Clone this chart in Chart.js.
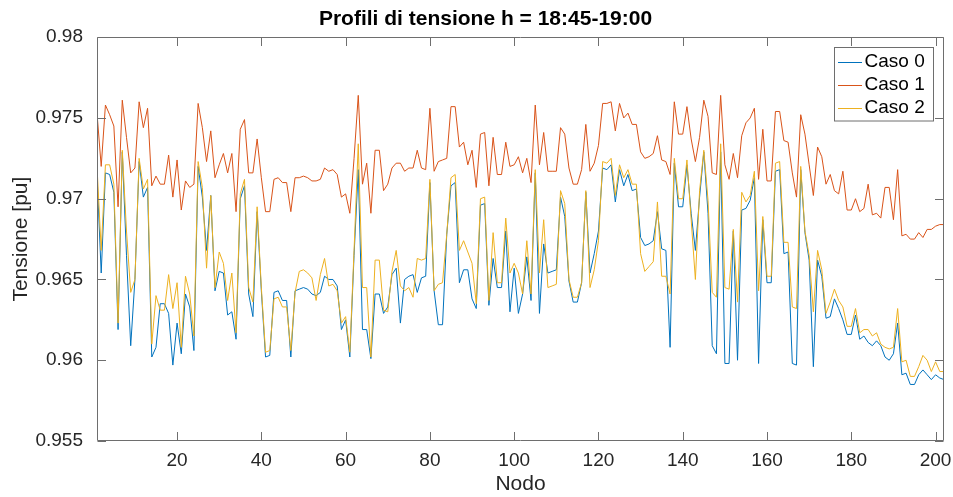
<!DOCTYPE html>
<html>
<head>
<meta charset="utf-8">
<script src="https://cdn.jsdelivr.net/npm/chart.js@4/dist/chart.umd.min.js"></script>
<style>
  html, body { margin: 0; padding: 0; background: #ffffff; }
  #wrap { width: 953px; height: 497px; }
</style>
</head>
<body>
<div id="wrap"><canvas id="c" width="953" height="497"></canvas></div>
<script>
// ---------- DATA ----------
const chartTitle = 'Profili di tensione h = 18:45-19:00';
const xTitle = 'Nodo';
const yTitle = 'Tensione [pu]';
const seriesNames = ['Caso 0', 'Caso 1', 'Caso 2'];
const xTickValues = [20, 40, 60, 80, 100, 120, 140, 160, 180, 200];
const yTickValues = [0.955, 0.96, 0.965, 0.97, 0.975, 0.98];
const yTickLabels = ['0.955', '0.96', '0.965', '0.97', '0.975', '0.98'];

const caso0 = [
  0.9715, 0.9654, 0.9716, 0.9715, 0.9704, 0.9619, 0.9729, 0.9665, 0.9609, 0.9650,
  0.9723, 0.9701, 0.9707, 0.9602, 0.9608, 0.9635, 0.9635, 0.9629, 0.9597, 0.9623,
  0.9604, 0.9641, 0.9633, 0.9606, 0.9720, 0.9701, 0.9668, 0.9702, 0.9643, 0.9655,
  0.9654, 0.9628, 0.9630, 0.9613, 0.9700, 0.9708, 0.9641, 0.9627, 0.9692, 0.9643,
  0.9602, 0.9603, 0.9642, 0.9643, 0.9637, 0.9637, 0.9602, 0.9643, 0.9644, 0.9645,
  0.9644, 0.9641, 0.9640, 0.9642, 0.9652, 0.9650, 0.9650, 0.9646, 0.9619, 0.9625,
  0.9602, 0.9665, 0.9718, 0.9619, 0.9619, 0.9601, 0.9641, 0.9641, 0.9629, 0.9633,
  0.9653, 0.9657, 0.9623, 0.9650, 0.9652, 0.9653, 0.9642, 0.9651, 0.9652, 0.9710,
  0.9643, 0.9622, 0.9622, 0.9678, 0.9708, 0.9710, 0.9648, 0.9656, 0.9656, 0.9638,
  0.9632, 0.9696, 0.9697, 0.9634, 0.9663, 0.9645, 0.9645, 0.9680, 0.9630, 0.9657,
  0.9629, 0.9641, 0.9664, 0.9637, 0.9716, 0.9629, 0.9672, 0.9654, 0.9655, 0.9656,
  0.9701, 0.9689, 0.9649, 0.9636, 0.9636, 0.9648, 0.9704, 0.9654, 0.9666, 0.9680,
  0.9719, 0.9718, 0.9721, 0.9698, 0.9718, 0.9708, 0.9715, 0.9705, 0.9706, 0.9676,
  0.9671, 0.9672, 0.9674, 0.9692, 0.9669, 0.9668, 0.9608, 0.9722, 0.9695, 0.9695,
  0.9721, 0.9691, 0.9668, 0.9701, 0.9729, 0.9691, 0.9609, 0.9604, 0.9729, 0.9598,
  0.9598, 0.9680, 0.9600, 0.9693, 0.9694, 0.9699, 0.9713, 0.9598, 0.9687, 0.9648,
  0.9648, 0.9717, 0.9718, 0.9666, 0.9667, 0.9598, 0.9597, 0.9718, 0.9679, 0.9662,
  0.9596, 0.9662, 0.9652, 0.9626, 0.9627, 0.9638, 0.9632, 0.9625, 0.9616, 0.9616,
  0.9628, 0.9613, 0.9615, 0.9611, 0.9609, 0.9612, 0.9609, 0.9602, 0.9600, 0.9604,
  0.9623, 0.9591, 0.9592, 0.9585, 0.9585, 0.9591, 0.9594, 0.9591, 0.9588, 0.9591,
  0.9589, 0.9588
];

const caso1 = [
  0.9753, 0.9720, 0.9758, 0.9752, 0.9745, 0.9695, 0.9761, 0.9738, 0.9716, 0.9719,
  0.9760, 0.9744, 0.9756, 0.9708, 0.9714, 0.9709, 0.9709, 0.9727, 0.9701, 0.9724,
  0.9693, 0.9711, 0.9707, 0.9709, 0.9759, 0.9744, 0.9723, 0.9742, 0.9713, 0.9721,
  0.9728, 0.9716, 0.9728, 0.9692, 0.9743, 0.9749, 0.9716, 0.9716, 0.9737, 0.9713,
  0.9692, 0.9692, 0.9712, 0.9713, 0.9710, 0.9710, 0.9692, 0.9713, 0.9713, 0.9714,
  0.9713, 0.9711, 0.9711, 0.9712, 0.9719, 0.9717, 0.9718, 0.9715, 0.9701, 0.9703,
  0.9691, 0.9725, 0.9764, 0.9709, 0.9722, 0.9691, 0.9730, 0.9730, 0.9705, 0.9709,
  0.9719, 0.9722, 0.9722, 0.9717, 0.9719, 0.9719, 0.9730, 0.9719, 0.9718, 0.9756,
  0.9717, 0.9723, 0.9724, 0.9725, 0.9757, 0.9757, 0.9732, 0.9735, 0.9721, 0.9730,
  0.9707, 0.9740, 0.9741, 0.9708, 0.9738, 0.9715, 0.9715, 0.9735, 0.9720, 0.9721,
  0.9726, 0.9716, 0.9725, 0.9710, 0.9758, 0.9721, 0.9741, 0.9717, 0.9717, 0.9717,
  0.9744, 0.9740, 0.9719, 0.9709, 0.9709, 0.9718, 0.9746, 0.9717, 0.9722, 0.9733,
  0.9759, 0.9759, 0.9760, 0.9742, 0.9759, 0.9750, 0.9753, 0.9746, 0.9746, 0.9729,
  0.9725, 0.9726, 0.9728, 0.9739, 0.9724, 0.9723, 0.9715, 0.9760, 0.9740, 0.9740,
  0.9757, 0.9737, 0.9723, 0.9738, 0.9761, 0.9751, 0.9716, 0.9715, 0.9764, 0.9721,
  0.9712, 0.9728, 0.9713, 0.9739, 0.9747, 0.9750, 0.9756, 0.9712, 0.9743, 0.9711,
  0.9711, 0.9754, 0.9754, 0.9736, 0.9735, 0.9716, 0.9701, 0.9752, 0.9740, 0.9721,
  0.9702, 0.9732, 0.9726, 0.9709, 0.9715, 0.9705, 0.9703, 0.9717, 0.9693, 0.9693,
  0.9700, 0.9692, 0.9694, 0.9709, 0.9690, 0.9691, 0.9688, 0.9707, 0.9707, 0.9687,
  0.9718, 0.9677, 0.9678, 0.9675, 0.9675, 0.9679, 0.9676, 0.9681, 0.9681, 0.9683,
  0.9684, 0.9684
];

const caso2 = [
  0.9720, 0.9668, 0.9721, 0.9721, 0.9709, 0.9623, 0.9730, 0.9680, 0.9642, 0.9650,
  0.9725, 0.9706, 0.9712, 0.9610, 0.9640, 0.9631, 0.9631, 0.9653, 0.9632, 0.9648,
  0.9608, 0.9652, 0.9641, 0.9615, 0.9723, 0.9707, 0.9657, 0.9702, 0.9645, 0.9667,
  0.9660, 0.9637, 0.9654, 0.9617, 0.9703, 0.9712, 0.9645, 0.9636, 0.9695, 0.9645,
  0.9605, 0.9606, 0.9638, 0.9639, 0.9633, 0.9633, 0.9606, 0.9642, 0.9655, 0.9656,
  0.9654, 0.9651, 0.9637, 0.9653, 0.9663, 0.9646, 0.9647, 0.9643, 0.9623, 0.9627,
  0.9605, 0.9668, 0.9734, 0.9645, 0.9645, 0.9602, 0.9662, 0.9662, 0.9631, 0.9630,
  0.9655, 0.9668, 0.9646, 0.9643, 0.9645, 0.9639, 0.9663, 0.9662, 0.9663, 0.9712,
  0.9643, 0.9647, 0.9648, 0.9678, 0.9713, 0.9715, 0.9668, 0.9674, 0.9667, 0.9660,
  0.9635, 0.9700, 0.9701, 0.9637, 0.9679, 0.9648, 0.9648, 0.9688, 0.9654, 0.9660,
  0.9654, 0.9641, 0.9674, 0.9641, 0.9718, 0.9654, 0.9687, 0.9645, 0.9646, 0.9647,
  0.9705, 0.9697, 0.9650, 0.9639, 0.9639, 0.9648, 0.9705, 0.9645, 0.9656, 0.9674,
  0.9723, 0.9722, 0.9725, 0.9702, 0.9721, 0.9713, 0.9718, 0.9709, 0.9709, 0.9666,
  0.9655, 0.9658, 0.9661, 0.9698, 0.9652, 0.9652, 0.9641, 0.9725, 0.9700, 0.9700,
  0.9724, 0.9687, 0.9650, 0.9705, 0.9730, 0.9699, 0.9642, 0.9639, 0.9734, 0.9645,
  0.9644, 0.9681, 0.9636, 0.9704, 0.9698, 0.9702, 0.9717, 0.9643, 0.9689, 0.9652,
  0.9652, 0.9722, 0.9723, 0.9673, 0.9673, 0.9633, 0.9632, 0.9720, 0.9680, 0.9665,
  0.9630, 0.9668, 0.9656, 0.9629, 0.9636, 0.9644, 0.9637, 0.9633, 0.9621, 0.9621,
  0.9632, 0.9617, 0.9619, 0.9619, 0.9615, 0.9617, 0.9610, 0.9608, 0.9607, 0.9608,
  0.9632, 0.9599, 0.9600, 0.9590, 0.9590, 0.9596, 0.9603, 0.9600, 0.9593, 0.9599,
  0.9593, 0.9593
];

const nodi = caso0.map((_, i) => i + 1);

// ---------- STYLE ----------
const FONT = "'Liberation Sans', Arial, Helvetica, sans-serif";
const TEXT = '#262626';
const AXIS = '#6e6e6e';
const colors = ['#0072BD', '#D95319', '#EDB120'];
const TICK_LEN = 8.5;

function toPoints(arr) { return arr.map((v, i) => ({ x: nodi[i], y: v })); }

const boxPlugin = {
  id: 'matlabBox',
  afterLayout(chart) {
    if (chart.titleBlock) { chart.titleBlock.left = 18; chart.titleBlock.right = 953; }
  },
  afterDatasetsDraw(chart) {
    const { ctx, chartArea: a, scales } = chart;
    ctx.save();
    ctx.strokeStyle = AXIS;
    ctx.lineWidth = 1;
    const L = Math.round(a.left) + 0.5, R = Math.round(a.right) - 0.5;
    const T = Math.round(a.top) + 0.5, B = Math.round(a.bottom) - 0.5;
    ctx.beginPath();
    ctx.rect(L, T, R - L, B - T);
    for (const v of xTickValues) {
      const px = Math.round(scales.x.getPixelForValue(v)) + 0.5;
      ctx.moveTo(px, B); ctx.lineTo(px, B - TICK_LEN);
      ctx.moveTo(px, T); ctx.lineTo(px, T + TICK_LEN);
    }
    for (const v of yTickValues) {
      const py = Math.round(scales.y.getPixelForValue(v)) + 0.5;
      ctx.moveTo(L, py); ctx.lineTo(L + TICK_LEN, py);
      ctx.moveTo(R, py); ctx.lineTo(R - TICK_LEN, py);
    }
    ctx.stroke();

    // legend box (top-right, inside axes)
    const lx = 834.5, ly = 47.5, lw = 99, lh = 73.5;
    ctx.fillStyle = '#ffffff';
    ctx.fillRect(lx, ly, lw, lh);
    ctx.strokeStyle = AXIS;
    ctx.strokeRect(lx, ly, lw, lh);
    ctx.font = '19px ' + FONT;
    ctx.textBaseline = 'middle';
    ctx.textAlign = 'left';
    chart.data.datasets.forEach((ds, i) => {
      const cy = 61.8 + i * 22.9;
      ctx.strokeStyle = ds.borderColor;
      ctx.lineWidth = 1;
      ctx.beginPath();
      ctx.moveTo(838, Math.round(cy) + 0.5);
      ctx.lineTo(862, Math.round(cy) + 0.5);
      ctx.stroke();
      ctx.fillStyle = '#000000';
      ctx.fillText(ds.label, 864.5, cy);
    });
    ctx.restore();
  }
};

new Chart(document.getElementById('c'), {
  type: 'line',
  data: {
    datasets: [
      { label: seriesNames[0], data: toPoints(caso0), borderColor: colors[0], backgroundColor: colors[0], order: 2 },
      { label: seriesNames[1], data: toPoints(caso1), borderColor: colors[1], backgroundColor: colors[1], order: 1 },
      { label: seriesNames[2], data: toPoints(caso2), borderColor: colors[2], backgroundColor: colors[2], order: 0 }
    ]
  },
  options: {
    responsive: false,
    animation: false,
    devicePixelRatio: 1,
    layout: { padding: { left: 0, right: 9, top: 0, bottom: 0 } },
    elements: {
      line: { borderWidth: 1, tension: 0, fill: false },
      point: { radius: 0, hoverRadius: 0 }
    },
    plugins: {
      legend: { display: false },
      tooltip: { enabled: false },
      title: {
        display: true,
        text: chartTitle,
        color: '#000000',
        font: { family: FONT, size: 21, weight: 'bold' },
        padding: { top: 7, bottom: 5 }
      }
    },
    scales: {
      x: {
        type: 'linear',
        position: 'bottom',
        min: 1,
        max: 202,
        grid: { display: false, drawTicks: false },
        border: { display: false },
        afterBuildTicks(scale) { scale.ticks = xTickValues.map(v => ({ value: v })); },
        afterFit(scale) { scale.height = 56; scale.paddingLeft = 0; scale.paddingRight = 0; },
        ticks: {
          autoSkip: false, maxRotation: 0, padding: 8,
          color: TEXT, font: { family: FONT, size: 19 },
          callback: (v, i) => String(xTickValues[i])
        },
        title: {
          display: true, text: xTitle, color: TEXT,
          font: { family: FONT, size: 21 },
          padding: { top: 0, bottom: 0 }
        }
      },
      y: {
        type: 'linear',
        min: 0.955,
        max: 0.98,
        grid: { display: false, drawTicks: false },
        border: { display: false },
        afterBuildTicks(scale) { scale.ticks = yTickValues.map(v => ({ value: v })); },
        afterFit(scale) { scale.width = 97; scale.paddingTop = 0; scale.paddingBottom = 0; },
        ticks: {
          padding: 14, color: TEXT, font: { family: FONT, size: 19 },
          callback: (v, i) => yTickLabels[i]
        },
        title: {
          display: true, text: yTitle, color: TEXT,
          font: { family: FONT, size: 21 },
          padding: { top: 9, bottom: 0 }
        }
      }
    }
  },
  plugins: [boxPlugin]
});
</script>
</body>
</html>
